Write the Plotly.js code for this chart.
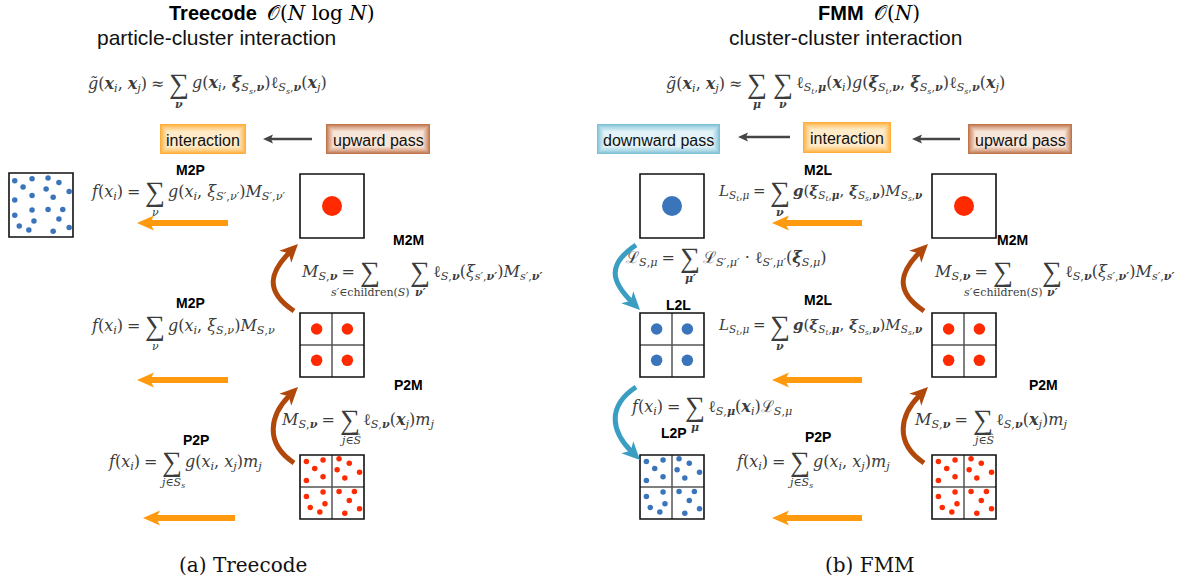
<!DOCTYPE html>
<html>
<head>
<meta charset="utf-8">
<script src="https://cdn.plot.ly/plotly-3.0.1.min.js"></script>
<style>html,body{margin:0;padding:0;background:#fff;}</style>
</head>
<body>
<div id="chart" style="width:1196px;height:583px;"></div>
<script>
// ---------------- content ----------------
const methodNames = ['Treecode', 'FMM'];
const methodCost = ['𝒪(<i>N</i> log <i>N</i>)', '𝒪(<i>N</i>)'];
const methodKind = ['particle-cluster interaction', 'cluster-cluster interaction'];
const captions = ['(a) Treecode', '(b) FMM'];

// pipeline stages shown above each tree
const stageNames = ['interaction', 'upward pass', 'downward pass', 'interaction', 'upward pass'];
const stageKind = ['int', 'up', 'down', 'int', 'up'];

// operator names next to each transfer
const opNames = ['M2P', 'M2M', 'M2P', 'P2M', 'P2P', 'M2L', 'M2M', 'L2L', 'M2L', 'P2M', 'L2P', 'P2P'];

// tree cells: level 0 = one expansion centre, 1 = four children, 2 = leaf particles
const cellLevel = [0, 1, 2, 0, 1, 2, 0, 1, 2];
const cellColour = ['red', 'red', 'red', 'blue', 'blue', 'blue', 'red', 'red', 'red'];

// particles of a leaf cell (unit square, origin top-left)
const leafU = [0.10, 0.36, 0.23, 0.10, 0.36, 0.61, 0.77, 0.58, 0.93, 0.70,
               0.10, 0.36, 0.39, 0.16, 0.31, 0.61, 0.85, 0.77, 0.93, 0.70];
const leafV = [0.10, 0.08, 0.21, 0.40, 0.34, 0.06, 0.13, 0.23, 0.27, 0.36,
               0.65, 0.58, 0.76, 0.82, 0.89, 0.57, 0.57, 0.71, 0.84, 0.91];
// target particles evaluated by the treecode
const targetU = [0.09, 0.36, 0.61, 0.78, 0.22, 0.58, 0.94, 0.09, 0.36, 0.69,
                 0.36, 0.61, 0.84, 0.09, 0.39, 0.78, 0.16, 0.31, 0.69, 0.94];
const targetV = [0.12, 0.09, 0.08, 0.15, 0.22, 0.25, 0.29, 0.42, 0.35, 0.38,
                 0.58, 0.57, 0.57, 0.66, 0.75, 0.72, 0.83, 0.89, 0.91, 0.85];
// children centres of a level-1 cell
const childU = [0.26, 0.74, 0.26, 0.74];
const childV = [0.25, 0.25, 0.74, 0.74];

// ---------------- formula pieces ----------------
const SP = '\u2005';   // relation spacing (not collapsed like ordinary spaces)
const bx = s => `<b><i>${s}</i></b>`;
const it = s => `<i>${s}</i>`;
const xi = `${it('x')}<sub>${it('i')}</sub>`;
const fx = `${it('f')}(${xi})${SP}=${SP}`;
const MSnu = `${it('M')}<sub>${it('S')},${bx('ν')}</sub>${SP}=${SP}`;
const ellSnu = `ℓ<sub>${it('S')},${bx('ν')}</sub>`;
const Ss = `${it('S')}<sub>${it('s')}</sub>`;
const St = `${it('S')}<sub>${it('t')}</sub>`;
const gTilde = `${it('g̃')}(${bx('x')}<sub>${it('i')}</sub>, ${bx('x')}<sub>${it('j')}</sub>)${SP}≈${SP}`;

const eqTreeTop = {left: gTilde, lim: [bx('ν')],
  right: `${it('g')}(${bx('x')}<sub>${it('i')}</sub>, ${bx('ξ')}<sub>${Ss},${bx('ν')}</sub>)ℓ<sub>${Ss},${bx('ν')}</sub>(${bx('x')}<sub>${it('j')}</sub>)`};
const eqFmmTop = {left: gTilde, lim: [bx('μ'), bx('ν')],
  right: `ℓ<sub>${St},${bx('μ')}</sub>(${bx('x')}<sub>${it('i')}</sub>)${it('g')}(${bx('ξ')}<sub>${St},${bx('ν')}</sub>, ${bx('ξ')}<sub>${Ss},${bx('ν')}</sub>)ℓ<sub>${Ss},${bx('ν')}</sub>(${bx('x')}<sub>${it('j')}</sub>)`};
const eqM2Pa = {left: fx, lim: [it('ν')],
  right: `${it('g')}(${xi}, ${it('ξ')}<sub>${it('S′')},${it('ν′')}</sub>)${it('M')}<sub>${it('S′')},${it('ν′')}</sub>`};
const eqM2Pb = {left: fx, lim: [it('ν')],
  right: `${it('g')}(${xi}, ${it('ξ')}<sub>${it('S')},${it('ν')}</sub>)${it('M')}<sub>${it('S')},${it('ν')}</sub>`};
const eqM2M = {left: MSnu, lim: [`${it('s′')}∈children(${it('S')})`, bx('ν′')],
  right: `${ellSnu}(${it('ξ')}<sub>${it('s′')},${bx('ν′')}</sub>)${it('M')}<sub>${it('s′')},${bx('ν′')}</sub>`};
const eqP2M = {left: MSnu, lim: [`${it('j')}∈${it('Ŝ')}`],
  right: `${ellSnu}(${bx('x')}<sub>${it('j')}</sub>)${it('m')}<sub>${it('j')}</sub>`};
const eqP2P = {left: fx, lim: [`${it('j')}∈${it('Ŝ')}<sub>${it('s')}</sub>`],
  right: `${it('g')}(${xi}, ${it('x')}<sub>${it('j')}</sub>)${it('m')}<sub>${it('j')}</sub>`};
const eqM2L = {left: `${it('L')}<sub>${St},${it('μ')}</sub>${SP}=${SP}`, lim: [bx('ν')], size: 15,
  right: `${bx('g')}(${bx('ξ')}<sub>${St},${bx('μ')}</sub>, ${bx('ξ')}<sub>${Ss},${bx('ν')}</sub>)${it('M')}<sub>${Ss},${bx('ν')}</sub>`};
const eqL2L = {left: `ℒ<sub>${it('S')},${it('μ')}</sub>${SP}=${SP}`, lim: [bx('μ′')],
  right: `ℒ<sub>${it('S′')},${it('μ′')}</sub> · ℓ<sub>${it('S′')},${it('μ′')}</sub>(${bx('ξ')}<sub>${it('S')},${it('μ')}</sub>)`};
const eqL2P = {left: fx, lim: [bx('μ')],
  right: `ℓ<sub>${it('S')},${bx('μ')}</sub>(${bx('x')}<sub>${it('i')}</sub>)ℒ<sub>${it('S')},${it('μ')}</sub>`};

// ---------------- drawing helpers ----------------
const SANS = 'Liberation Sans, Arial, sans-serif';
const SERIF = 'DejaVu Serif, Liberation Serif, serif';
const SIGMA = 'Liberation Serif, DejaVu Serif, serif';
const INK = '#3c3c3c';
const COL = {red: '#ff2a00', blue: '#3a74bb', orange: '#ff9a0e', brown: '#b0480c', teal: '#3a9ec2', dark: '#454545'};

const annotations = [], shapes = [], traces = [];

function text(x, y, t, font, xanchor) {
  annotations.push({x, y, xref: 'x', yref: 'y', text: t, showarrow: false,
    xanchor: xanchor || 'center', yanchor: 'middle',
    font: Object.assign({family: SERIF, size: 16, color: INK}, font || {})});
}

function formula(eq, y, sig) {
  const f = {size: eq.size || 16};
  text(sig[0] - 9, y, eq.left, f, 'right');
  sig.forEach((sx, k) => {
    text(sx, y - 1, '∑', {family: SIGMA, size: 28});
    text(sx, y + 20, eq.lim[k], {size: 11});
  });
  text(sig[sig.length - 1] + 11, y, eq.right, f, 'left');
}

function label(x, y, t) {
  text(x, y, `<b>${t}</b>`, {family: SANS, size: 14, color: '#000'});
}

function mix(a, b, t) {
  const pa = a.match(/\w\w/g).map(h => parseInt(h, 16));
  const pb = b.match(/\w\w/g).map(h => parseInt(h, 16));
  return 'rgb(' + pa.map((v, i) => Math.round(v + (pb[i] - v) * t)).join(',') + ')';
}

const STAGE = {int: ['#ffae3a', '#ffebc8'], up: ['#c0744a', '#f8e6da'], down: ['#7ec1d6', '#e3f3f8']};
function stage(x0, y0, x1, y1, name, kind) {
  const [edge, centre] = STAGE[kind];
  const n = 7;
  for (let k = 0; k < n; k++) {
    const d = k * 1.2;
    shapes.push({type: 'rect', x0: x0 + d, x1: x1 - d, y0: y0 + d, y1: y1 - d,
      fillcolor: mix(edge, centre, Math.pow(k / (n - 1), 0.8)), line: {width: 0}, layer: 'below'});
  }
  text((x0 + x1) / 2, (y0 + y1) / 2 + 1, name, {family: SANS, size: 16, color: '#111'});
}

function head(tx, ty, dx, dy, L, w, notch, color) {
  const n = Math.hypot(dx, dy); dx /= n; dy /= n;
  const px = -dy, py = dx;
  const bxp = tx - L * dx, byp = ty - L * dy;
  const nx = tx - (L - notch) * dx, ny = ty - (L - notch) * dy;
  shapes.push({type: 'path', layer: 'above', fillcolor: color, line: {width: 0},
    path: `M ${tx} ${ty} L ${bxp + w * px} ${byp + w * py} L ${nx} ${ny} L ${bxp - w * px} ${byp - w * py} Z`});
  return [nx + dx, ny + dy];
}

function straightArrow(x0, y0, x1, y1, color, lw, L, w, notch) {
  const [ex, ey] = head(x1, y1, x1 - x0, y1 - y0, L, w, notch, color);
  shapes.push({type: 'path', layer: 'above', line: {color, width: lw}, path: `M ${x0} ${y0} L ${ex} ${ey}`});
}

// curved transfer arrow, bowing to the left between a start and a tip
function curvedArrow(x0, y0, x1, y1, color) {
  const sgn = y1 < y0 ? 1 : -1;
  const c1 = [x0 - 30, y0 - sgn * 20], c2 = [x1 - 28, y1 + sgn * 28];
  const [ex, ey] = head(x1, y1, x1 - c2[0], y1 - c2[1], 18, 8.5, 5, color);
  shapes.push({type: 'path', layer: 'above', line: {color, width: 5},
    path: `M ${x0} ${y0} C ${c1[0]} ${c1[1]} ${c2[0]} ${c2[1]} ${ex} ${ey}`});
}

function box(x, y, s, split) {
  if (split) {
    shapes.push({type: 'line', x0: x + s / 2, x1: x + s / 2, y0: y, y1: y + s, line: {color: '#555', width: 1.5}});
    shapes.push({type: 'line', x0: x, x1: x + s, y0: y + s / 2, y1: y + s / 2, line: {color: '#555', width: 1.5}});
  }
  shapes.push({type: 'rect', x0: x, x1: x + s, y0: y, y1: y + s, line: {color: '#111', width: 1.6}});
}

function dots(x, y, s, us, vs, color, size) {
  traces.push({type: 'scatter', mode: 'markers', hoverinfo: 'skip',
    x: us.map(u => x + u * s), y: vs.map(v => y + v * s),
    marker: {color: COL[color], size, line: {width: 0}}});
}

// ---------------- headings ----------------
const headRight = [259, 866], kindX = [216, 845];
methodNames.forEach((m, i) => {
  text(headRight[i], 13, `<b>${m}</b>`, {family: SANS, size: 20, color: '#000'}, 'right');
  text(headRight[i] + 6, 13, methodCost[i], {family: SERIF, size: 20, color: '#000'}, 'left');
  text(kindX[i], 37, methodKind[i], {family: SANS, size: 21, color: '#111'});
});
const capX = [243, 870];
captions.forEach((c, i) => text(capX[i], 565, c, {family: SERIF, size: 20, color: '#111'}));

// ---------------- stage bar ----------------
const stageX0 = [160, 326, 597, 803, 968], stageX1 = [246, 430, 720, 891, 1072];
const stageY0 = [124, 124, 124, 122, 124], stageY1 = [154, 154, 154, 153, 154];
stageNames.forEach((n, i) => stage(stageX0[i], stageY0[i], stageX1[i], stageY1[i], n, stageKind[i]));
straightArrow(312, 139, 263, 139, COL.dark, 2.5, 10, 4.5, 2);
straightArrow(790, 137, 738, 137, COL.dark, 2.5, 10, 4.5, 2);
straightArrow(960, 139, 912, 139, COL.dark, 2.5, 10, 4.5, 2);

// ---------------- trees ----------------
const S = 64;
const cellX = [300, 300, 300, 640, 640, 640, 932, 932, 932];
const cellY = [174, 313, 455, 174, 313, 455, 174, 313, 455];
cellLevel.forEach((lv, i) => {
  box(cellX[i], cellY[i], S, lv > 0);
  if (lv === 0) dots(cellX[i], cellY[i], S, [0.5], [0.5], cellColour[i], 20);
  else if (lv === 1) dots(cellX[i], cellY[i], S, childU, childV, cellColour[i], 11.5);
  else dots(cellX[i], cellY[i], S, leafU, leafV, cellColour[i], 5.5);
});
box(9, 173, S, false);
dots(9, 173, S, targetU, targetV, 'blue', 5.5);

// horizontal evaluation / translation arrows
[[228, 137, 223], [228, 137, 380], [235, 143, 518], [862, 772, 223], [862, 772, 380], [862, 772, 518]]
  .forEach(a => straightArrow(a[0], a[2], a[1], a[2], COL.orange, 6, 17, 7.5, 4));

// upward (M2M, P2M) and downward (L2L, L2P) arrows
curvedArrow(294, 311, 298, 244, COL.brown);
curvedArrow(294, 463, 298, 387, COL.brown);
curvedArrow(924, 311, 928, 244, COL.brown);
curvedArrow(924, 463, 928, 387, COL.brown);
curvedArrow(636, 245, 640, 310, COL.teal);
curvedArrow(636, 387, 640, 460, COL.teal);

// ---------------- operator labels ----------------
const opX = [190, 408, 190, 408, 196, 818, 1012, 678, 818, 1043, 674, 818];
const opY = [170, 240, 303, 385, 440, 170, 240, 305, 300, 385, 433, 437];
opNames.forEach((n, i) => label(opX[i], opY[i], n));

// ---------------- formulas ----------------
formula(eqTreeTop, 84, [179]);
formula(eqFmmTop, 84, [757, 783]);
formula(eqM2Pa, 192, [155]);
formula(eqM2M, 272, [370, 420]);
formula(eqM2Pb, 326, [155]);
formula(eqP2M, 420, [350]);
formula(eqP2P, 462, [172]);
formula(eqM2L, 192, [780]);
formula(eqL2L, 258, [690]);
formula(eqM2M, 272, [1003, 1052]);
formula(eqM2L, 326, [780]);
formula(eqL2P, 407, [695]);
formula(eqP2M, 420, [983]);
formula(eqP2P, 462, [800]);

const layout = {
  width: 1196, height: 583, margin: {l: 0, r: 0, t: 0, b: 0},
  paper_bgcolor: '#fff', plot_bgcolor: '#fff', showlegend: false,
  xaxis: {range: [0, 1196], visible: false, fixedrange: true},
  yaxis: {range: [583, 0], visible: false, fixedrange: true},
  shapes, annotations
};
Plotly.newPlot('chart', traces, layout, {staticPlot: true, displayModeBar: false});
</script>
</body>
</html>
